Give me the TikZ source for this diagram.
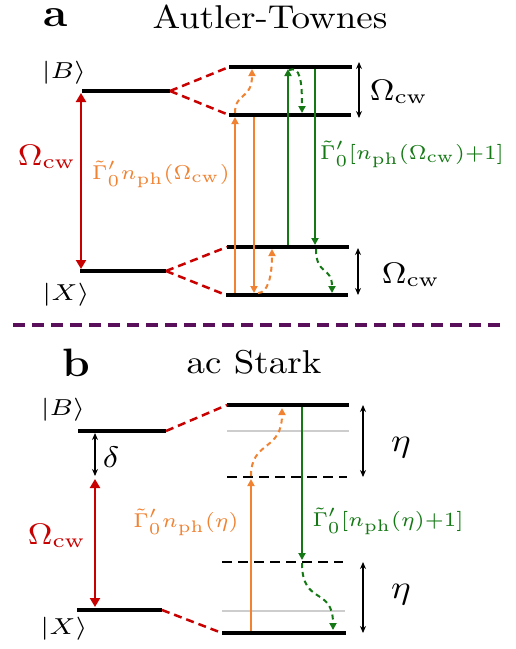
\RequirePackage{fix-cm}
\documentclass[tikz,border=0pt]{standalone}
\usepackage{amsmath}
\usepackage{graphicx}
\usetikzlibrary{arrows.meta}
\definecolor{myred}{RGB}{200,0,0}
\definecolor{myorange}{RGB}{240,130,50}
\definecolor{mygreen}{RGB}{20,120,20}
\definecolor{mypurple}{RGB}{90,15,90}
\definecolor{mygray}{RGB}{205,205,205}
\newcommand\sct[2]{\scalebox{3.7}[3.3]{\fontsize{#1}{#1}\selectfont #2}}
\newcommand\scr[1]{\scalebox{3.4}[3.35]{\fontsize{6}{6}\selectfont #1}}
\tikzset{
  lvl/.style={line width=4pt},
  dlvl/.style={line width=2.5pt, dash pattern=on 10pt off 6pt},
  glvl/.style={line width=2.5pt, mygray},
  link/.style={myred, line width=2.5pt, dash pattern=on 8pt off 5pt},
  redarr/.style={myred, line width=2.5pt, {Triangle[length=9pt,width=10pt]}-{Triangle[length=9pt,width=10pt]}},
  blkarr/.style={black, line width=1.8pt, {Stealth[length=7pt,width=6pt]}-{Stealth[length=7pt,width=6pt]}},
  orarr/.style={myorange, line width=2pt, -{Triangle[length=7pt,width=7pt]}},
  grarr/.style={mygreen, line width=2pt, -{Triangle[length=7pt,width=7pt]}},
  ordash/.style={orarr, dash pattern=on 5pt off 4pt},
  grdash/.style={grarr, dash pattern=on 5pt off 4pt},
  sep/.style={mypurple, line width=4pt, dash pattern=on 12pt off 7pt},
  lbl/.style={inner sep=0pt},
}
\begin{document}
\begin{tikzpicture}[x=1pt,y=-1pt]
\useasboundingbox (0,0) rectangle (515,649);

% ---------------- panel a ----------------
\node[lbl] (la) at (56,18) {\sct{12}{\bfseries a}};
\node[lbl] (ta) at (270,17) {\sct{10}{Autler-Townes}};

\coordinate (aBl) at (82,91);  \coordinate (aBr) at (170,91);
\coordinate (aXl) at (80,271); \coordinate (aXr) at (166,271);
\coordinate (aU1l) at (229,67);  \coordinate (aU1r) at (352,67);
\coordinate (aU2l) at (229,115); \coordinate (aU2r) at (351,115);
\coordinate (aL1l) at (227,247); \coordinate (aL1r) at (349,247);
\coordinate (aL2l) at (226,295); \coordinate (aL2r) at (348,295);

\draw[link] (aBr) -- (aU1l);
\draw[link] (aBr) -- (aU2l);
\draw[link] (aXr) -- (aL1l);
\draw[link] (aXr) -- (aL2l);

\draw[lvl] (aBl) -- (aBr);
\draw[lvl] (aXl) -- (aXr);
\draw[lvl] (aU1l) -- (aU1r);
\draw[lvl] (aU2l) -- (aU2r);
\draw[lvl] (aL1l) -- (aL1r);
\draw[lvl] (aL2l) -- (aL2r);

\coordinate (aR1) at (81,93); \coordinate (aR2) at (81,269);
\draw[redarr] (aR1) -- (aR2);

\coordinate (aO1a) at (235,293); \coordinate (aO1b) at (235,117);
\draw[orarr] (aO1a) -- (aO1b);
\coordinate (aO2a) at (254,117); \coordinate (aO2b) at (254,293);
\draw[orarr] (aO2a) -- (aO2b);
\coordinate (aO3a) at (235,113); \coordinate (aO3b) at (252,69);
\draw[ordash] (aO3a) .. controls (235,92) and (252,100) .. (aO3b);
\coordinate (aO4a) at (258,293); \coordinate (aO4b) at (272,249);
\draw[ordash] (aO4a) .. controls (268,293) and (272,276) .. (aO4b);

\coordinate (aG1a) at (288,245); \coordinate (aG1b) at (288,69);
\draw[grarr] (aG1a) -- (aG1b);
\coordinate (aG2a) at (315,69); \coordinate (aG2b) at (315,245);
\draw[grarr] (aG2a) -- (aG2b);
\coordinate (aG3a) at (289,70); \coordinate (aG3b) at (302,113);
\draw[grdash] (aG3a) .. controls (300,66) and (302,80) .. (aG3b);
\coordinate (aG4a) at (316,249); \coordinate (aG4b) at (332,293);
\draw[grdash] (aG4a) .. controls (316,276) and (332,266) .. (aG4b);

\coordinate (aK1a) at (359,62); \coordinate (aK1b) at (359,118);
\draw[blkarr] (aK1a) -- (aK1b);
\coordinate (aK2a) at (358,248); \coordinate (aK2b) at (358,295);
\draw[blkarr] (aK2a) -- (aK2b);

\node[lbl] (aB) at (64,73) {\sct{7}{$|B\rangle$}};
\node[lbl] (aX) at (66,295) {\sct{7}{$|X\rangle$}};
\node[lbl, text=myred] (aW) at (47,157) {\sct{9}{$\Omega_{\mathrm{cw}}$}};
\node[lbl, text=myorange] (aOr) at (161,174) {\scr{$\tilde{\Gamma}'_0 n_{\mathrm{ph}}(\Omega_{\mathrm{cw}})$}};
\node[lbl, text=mygreen] (aGr) at (412,154) {\scr{$\tilde{\Gamma}'_0[n_{\mathrm{ph}}(\Omega_{\mathrm{cw}}){+}1]$}};
\node[lbl] (aW1) at (399,92) {\sct{9}{$\Omega_{\mathrm{cw}}$}};
\node[lbl] (aW2) at (411,275) {\sct{9}{$\Omega_{\mathrm{cw}}$}};

% separator
\coordinate (s1) at (13,325); \coordinate (s2) at (502,325);
\draw[sep] (s1) -- (s2);

% ---------------- panel b ----------------
\node[lbl] (lb) at (76,363) {\sct{12}{\bfseries b}};
\node[lbl] (tb) at (254,362) {\sct{10}{ac Stark}};

\coordinate (bBl) at (78,431);  \coordinate (bBr) at (166,431);
\coordinate (bXl) at (77,610);  \coordinate (bXr) at (162,610);
\coordinate (bUl) at (227,405); \coordinate (bUr) at (349,405);
\coordinate (bG1l) at (227,431); \coordinate (bG1r) at (349,431);
\coordinate (bD1l) at (227,477); \coordinate (bD1r) at (347,477);
\coordinate (bD2l) at (222,562); \coordinate (bD2r) at (343,562);
\coordinate (bG2l) at (222,611); \coordinate (bG2r) at (345,611);
\coordinate (bLl) at (222,633); \coordinate (bLr) at (346,633);

\draw[link] (bBr) -- (bUl);
\draw[link] (bXr) -- (bLl);
\draw[glvl] (bG1l) -- (bG1r);
\draw[glvl] (bG2l) -- (bG2r);
\draw[dlvl] (bD1l) -- (bD1r);
\draw[dlvl] (bD2l) -- (bD2r);
\draw[lvl] (bBl) -- (bBr);
\draw[lvl] (bXl) -- (bXr);
\draw[lvl] (bUl) -- (bUr);
\draw[lvl] (bLl) -- (bLr);

\coordinate (bd1) at (95,433); \coordinate (bd2) at (95,476);
\draw[blkarr, line width=1.5pt] (bd1) -- (bd2);
\coordinate (bR1) at (95,479); \coordinate (bR2) at (95,607);
\draw[redarr] (bR1) -- (bR2);

\coordinate (bO1a) at (251,631); \coordinate (bO1b) at (251,479);
\draw[orarr] (bO1a) -- (bO1b);
\coordinate (bO2a) at (251,476); \coordinate (bO2b) at (282,408);
\draw[ordash] (bO2a) .. controls (251,440) and (282,452) .. (bO2b);

\coordinate (bG1a) at (302,407); \coordinate (bG1b) at (302,560);
\draw[grarr] (bG1a) -- (bG1b);
\coordinate (bG2a) at (302,563); \coordinate (bG2b) at (333,630);
\draw[grdash] (bG2a) .. controls (302,606) and (333,586) .. (bG2b);

\coordinate (bK1a) at (363,405); \coordinate (bK1b) at (363,477);
\draw[blkarr] (bK1a) -- (bK1b);
\coordinate (bK2a) at (363,562); \coordinate (bK2b) at (363,633);
\draw[blkarr] (bK2a) -- (bK2b);

\node[lbl] (bB) at (63,410) {\sct{7}{$|B\rangle$}};
\node[lbl] (bX) at (64,629) {\sct{7}{$|X\rangle$}};
\node[lbl] (bdl) at (111,457) {\sct{9}{$\delta$}};
\node[lbl] (be1) at (401,448) {\sct{10}{$\eta$}};
\node[lbl] (be2) at (401,595) {\sct{10}{$\eta$}};
\node[lbl, text=myred] (bW) at (57,536) {\sct{9}{$\Omega_{\mathrm{cw}}$}};
\node[lbl, text=myorange] (bOr) at (186,522) {\scr{$\tilde{\Gamma}'_0 n_{\mathrm{ph}}(\eta)$}};
\node[lbl, text=mygreen] (bGr) at (388,521) {\scr{$\tilde{\Gamma}'_0[n_{\mathrm{ph}}(\eta){+}1]$}};
\end{tikzpicture}
\end{document}
